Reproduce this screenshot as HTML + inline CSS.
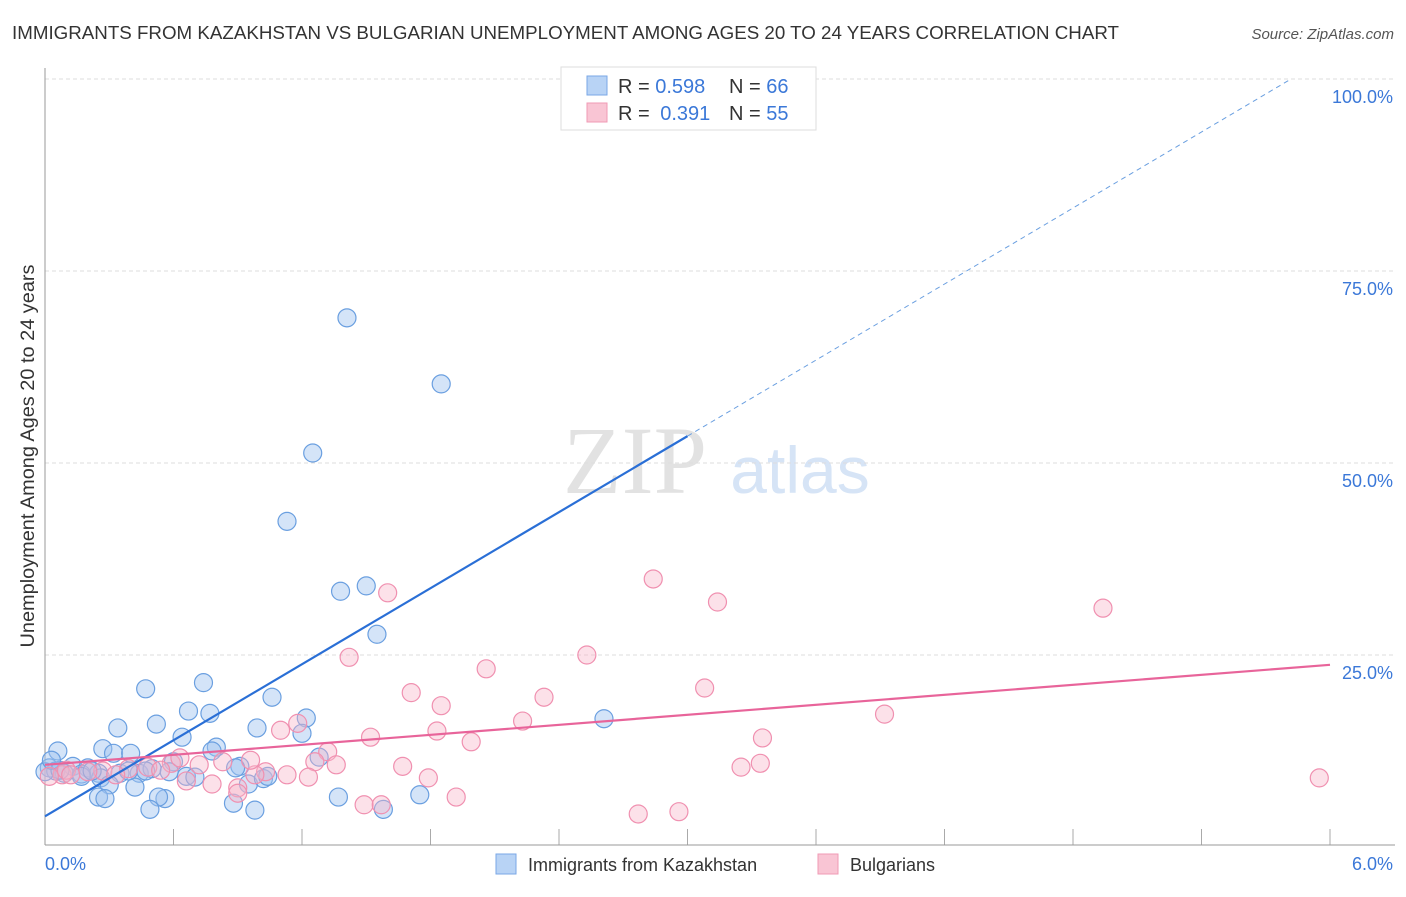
<!DOCTYPE html>
<html><head><meta charset="utf-8"><style>
body{margin:0;background:#fff;font-family:"Liberation Sans",sans-serif}
</style></head><body>
<svg width="1406" height="892" xmlns="http://www.w3.org/2000/svg" id="chart">
<text x="12" y="39" font-size="18" fill="#333" textLength="1107" lengthAdjust="spacingAndGlyphs">IMMIGRANTS FROM KAZAKHSTAN VS BULGARIAN UNEMPLOYMENT AMONG AGES 20 TO 24 YEARS CORRELATION CHART</text>
<text x="1394" y="39" font-size="15" fill="#555" font-style="italic" text-anchor="end">Source: ZipAtlas.com</text>
<text x="635" y="493" font-size="96" fill="#e2e2e2" font-family="Liberation Serif,serif" text-anchor="middle">ZIP</text>
<text x="800" y="493" font-size="66" fill="#d6e4f6" text-anchor="middle">atlas</text>
<g id="grid"></g>
<line x1="45" y1="68" x2="45" y2="845" stroke="#999"/>
<line x1="45" y1="845" x2="1395" y2="845" stroke="#999"/>
<text x="34" y="456" font-size="19" fill="#333" text-anchor="middle" textLength="383" lengthAdjust="spacingAndGlyphs" transform="rotate(-90 34 456)">Unemployment Among Ages 20 to 24 years</text>
<text x="45" y="870" font-size="18" fill="#3b78d8">0.0%</text>
<text x="1393" y="870" font-size="18" fill="#3b78d8" text-anchor="end">6.0%</text>
<g id="pts"></g>
<g id="lines"></g>
<g>
<rect x="561" y="67" width="255" height="63" fill="#fff" stroke="#ddd"/>
<rect x="587" y="76" width="20" height="19" fill="#b8d3f5" stroke="#7aa7e6"/>
<rect x="587" y="103" width="20" height="19" fill="#f9c5d4" stroke="#f09ab5"/>
<text x="618" y="93" font-size="20" fill="#333">R = <tspan fill="#3b78d8">0.598</tspan><tspan x="729">N = </tspan><tspan fill="#3b78d8">66</tspan></text>
<text x="618" y="120" font-size="20" fill="#333">R = <tspan fill="#3b78d8" dx="5">0.391</tspan><tspan x="729">N = </tspan><tspan fill="#3b78d8">55</tspan></text>
</g>
<g>
<rect x="496" y="854" width="20" height="20" fill="#b8d3f5" stroke="#7aa7e6"/>
<text x="528" y="871" font-size="18" fill="#333">Immigrants from Kazakhstan</text>
<rect x="818" y="854" width="20" height="20" fill="#f9c5d4" stroke="#f09ab5"/>
<text x="850" y="871" font-size="18" fill="#333">Bulgarians</text>
</g>
</svg>
<script>
const yTicks=[25,50,75,100];
const xTicks=[0.6,1.2,1.8,2.4,3.0,3.6,4.2,4.8,5.4,6.0];
const blueX=[2.69,1.41,1.85,1.25,1.13,1.50,1.38,1.55,0.47,0.74,0.67,0.77,0.52,0.34,0.64,1.06,1.22,1.20,0.99,2.61,0.27,0.32,0.40,0.80,0.78,0.60,0.91,0.06,0.02,0.13,0.20,0.25,0.35,0.44,0.50,0.58,0.66,0.70,0.26,0.05,0.09,0.17,0.30,0.42,0.95,1.02,1.04,1.28,0.56,0.25,0.28,0.53,0.49,0.88,0.98,1.37,1.58,1.75,0.00,0.07,0.17,0.39,0.22,0.03,0.89,0.47];
const blueY=[100.3,68.9,60.3,51.3,42.4,34.0,33.3,27.7,20.6,21.4,17.7,17.4,16.0,15.5,14.3,19.5,16.8,14.8,15.5,16.7,12.8,12.2,12.2,13.0,12.5,11.1,10.5,12.5,10.3,10.5,10.3,9.6,9.6,9.6,10.2,9.8,9.2,9.1,9.0,9.9,9.6,9.5,8.1,7.8,8.2,8.9,9.2,11.7,6.3,6.5,6.3,6.5,4.9,5.7,4.8,6.5,4.9,6.8,9.8,10.0,9.2,9.9,9.9,11.3,10.3,9.9];
const pinkX=[2.84,1.60,3.14,4.94,2.53,1.42,2.06,3.08,1.71,2.33,1.85,3.92,2.23,1.18,1.10,1.83,1.52,3.35,1.99,1.32,1.26,1.36,1.67,3.34,3.25,0.83,0.72,0.59,0.48,0.39,0.27,0.20,0.08,0.02,0.10,0.66,0.78,0.90,1.79,1.13,1.23,1.03,0.90,0.98,5.95,1.92,1.49,1.57,2.77,2.96,0.54,0.33,0.12,0.63,0.96];
const pinkY=[34.9,33.1,31.9,31.1,25.0,24.7,23.2,20.7,20.1,19.5,18.4,17.3,16.4,16.1,15.2,15.1,14.3,14.2,13.7,12.4,11.1,10.7,10.5,10.9,10.4,11.1,10.7,10.9,10.4,10.2,9.9,9.8,9.4,9.2,10.0,8.6,8.2,7.7,9.0,9.4,9.1,9.8,7.0,9.4,9.0,6.5,5.5,5.5,4.3,4.6,10.0,9.4,9.4,11.6,11.3];
const blueTrend=[4.0,16.5], pinkTrend=[10.7,2.17];
const NS='http://www.w3.org/2000/svg';
const sx=v=>45+v*1285/6, sy=v=>847-v*7.68;
function mk(t,a,p){const e=document.createElementNS(NS,t);for(const k in a)e.setAttribute(k,a[k]);p.appendChild(e);return e;}
const grid=document.getElementById('grid');
yTicks.forEach(t=>{
 const l=mk('line',{x1:45,x2:1395,y1:sy(t),y2:sy(t),stroke:'#ddd','stroke-dasharray':'4,3'},grid);
 
 
 const tx=mk('text',{x:1393,y:sy(t)+24,'font-size':18,fill:'#3b78d8','text-anchor':'end'},grid);
 tx.textContent=t.toFixed(1)+'%';
 
 
});
xTicks.forEach(t=>{
 const l=mk('line',{x1:sx(t),x2:sx(t),y1:829,y2:845,stroke:'#aaa'},grid);
 
 
});
const pts=document.getElementById('pts');
blueX.forEach((x,i)=>{
 const c=mk('circle',{cx:sx(x),cy:sy(blueY[i]),r:9,fill:'rgba(160,196,240,0.45)',stroke:'#6a9fe0','stroke-width':1.2},pts);
 
 
});
pinkX.forEach((x,i)=>{
 const c=mk('circle',{cx:sx(x),cy:sy(pinkY[i]),r:9,fill:'rgba(248,180,200,0.4)',stroke:'#f090b0','stroke-width':1.2},pts);
 
 
});
const lines=document.getElementById('lines');
const bEnd=(100-blueTrend[0])/blueTrend[1];
const b1=mk('line',{x1:sx(0),y1:sy(blueTrend[0]),x2:sx(3),y2:sy(blueTrend[0]+3*blueTrend[1]),stroke:'#2a6fd6','stroke-width':2.2},lines);


const b2=mk('line',{x1:sx(3),y1:sy(blueTrend[0]+3*blueTrend[1]),x2:sx(bEnd),y2:sy(100),stroke:'#6a9fe0','stroke-width':1,'stroke-dasharray':'5,4'},lines);


const p1=mk('line',{x1:sx(0),y1:sy(pinkTrend[0]),x2:sx(6),y2:sy(pinkTrend[0]+6*pinkTrend[1]),stroke:'#e8649a','stroke-width':2.2},lines);


</script>
</body></html>
